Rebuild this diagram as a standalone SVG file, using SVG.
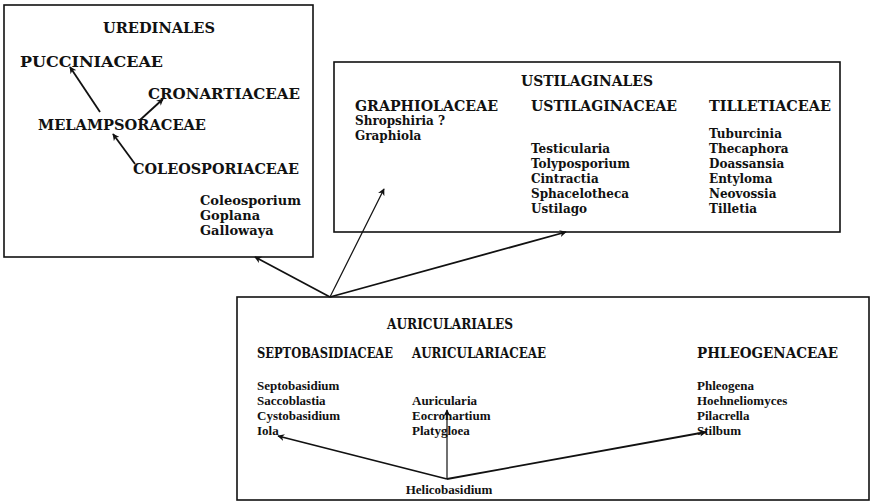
<svg xmlns="http://www.w3.org/2000/svg" width="874" height="503" viewBox="0 0 874 503">
<style>
.box{fill:none;stroke:#111;stroke-width:1.6}
.h{font-family:"DejaVu Serif","Liberation Serif",serif;font-weight:bold;font-size:14px;fill:#111}
.g{font-family:"DejaVu Serif","Liberation Serif",serif;font-weight:bold;font-size:12px;fill:#111}
.u{font-size:13px}
.s{font-family:"Liberation Serif","Times New Roman",serif;font-size:13px}
.c{text-anchor:middle}
.a{fill:none;stroke:#111;stroke-width:1.8;marker-end:url(#ah)}
.t{stroke-width:1.2}
</style>
<defs>
<marker id="ah" viewBox="0 0 10 10" refX="9" refY="5" markerWidth="7" markerHeight="7" markerUnits="userSpaceOnUse" orient="auto">
<path d="M0,0 L10,5 L0,10 L3,5 z" fill="#111"/>
</marker>
</defs>
<rect width="874" height="503" fill="#fff"/>
<g id="uredinales">
<rect class="box" x="4" y="5" width="309" height="252"/>
<text class="h c" x="159" y="33" textLength="112" lengthAdjust="spacingAndGlyphs">UREDINALES</text>
<text class="h" x="20" y="67" textLength="143" lengthAdjust="spacingAndGlyphs">PUCCINIACEAE</text>
<text class="h" x="148" y="99" textLength="152" lengthAdjust="spacingAndGlyphs">CRONARTIACEAE</text>
<text class="h" x="38" y="130" textLength="168" lengthAdjust="spacingAndGlyphs">MELAMPSORACEAE</text>
<text class="h" x="133" y="174" textLength="166" lengthAdjust="spacingAndGlyphs">COLEOSPORIACEAE</text>
<text class="g u" x="200" y="205">Coleosporium</text>
<text class="g u" x="200" y="220">Goplana</text>
<text class="g u" x="200" y="235">Gallowaya</text>
</g>
<g id="ustilaginales">
<rect class="box" x="334" y="62" width="506" height="170"/>
<text class="h c" x="587" y="86" textLength="132" lengthAdjust="spacingAndGlyphs">USTILAGINALES</text>
<text class="h" x="355" y="111" textLength="143" lengthAdjust="spacingAndGlyphs">GRAPHIOLACEAE</text>
<text class="g" x="355" y="125">Shropshiria ?</text>
<text class="g" x="355" y="140">Graphiola</text>
<text class="h" x="531" y="111" textLength="146" lengthAdjust="spacingAndGlyphs">USTILAGINACEAE</text>
<text class="g" x="531" y="153">Testicularia</text>
<text class="g" x="531" y="168">Tolyposporium</text>
<text class="g" x="531" y="183">Cintractia</text>
<text class="g" x="531" y="198">Sphacelotheca</text>
<text class="g" x="531" y="213">Ustilago</text>
<text class="h" x="709" y="111" textLength="122" lengthAdjust="spacingAndGlyphs">TILLETIACEAE</text>
<text class="g" x="709" y="138">Tuburcinia</text>
<text class="g" x="709" y="153">Thecaphora</text>
<text class="g" x="709" y="168">Doassansia</text>
<text class="g" x="709" y="183">Entyloma</text>
<text class="g" x="709" y="198">Neovossia</text>
<text class="g" x="709" y="213">Tilletia</text>
</g>
<g id="auriculariales">
<rect class="box" x="237" y="297" width="632" height="203"/>
<text class="h c" x="450" y="329" textLength="126" lengthAdjust="spacingAndGlyphs">AURICULARIALES</text>
<text class="h" x="257" y="358" textLength="136" lengthAdjust="spacingAndGlyphs">SEPTOBASIDIACEAE</text>
<text class="g s" x="257" y="390">Septobasidium</text>
<text class="g s" x="257" y="405">Saccoblastia</text>
<text class="g s" x="257" y="420">Cystobasidium</text>
<text class="g s" x="257" y="435">Iola</text>
<text class="h" x="412" y="358" textLength="134" lengthAdjust="spacingAndGlyphs">AURICULARIACEAE</text>
<text class="g s" x="412" y="405">Auricularia</text>
<text class="g s" x="412" y="420">Eocronartium</text>
<text class="g s" x="412" y="435">Platygloea</text>
<text class="h" x="697" y="358" textLength="141" lengthAdjust="spacingAndGlyphs">PHLEOGENACEAE</text>
<text class="g s" x="697" y="390">Phleogena</text>
<text class="g s" x="697" y="405">Hoehneliomyces</text>
<text class="g s" x="697" y="420">Pilacrella</text>
<text class="g s" x="697" y="435">Stilbum</text>
<text class="g s c" x="449" y="494">Helicobasidium</text>
</g>
<g id="connectors">
<line class="a" x1="100" y1="112" x2="70" y2="67"/>
<line class="a" x1="140" y1="120" x2="163" y2="99"/>
<line class="a" x1="135" y1="164" x2="113" y2="134"/>
<line class="a" x1="330" y1="297" x2="255" y2="257"/>
<line class="a t" x1="330" y1="297" x2="384" y2="189"/>
<line class="a" x1="330" y1="297" x2="566" y2="232"/>
<line class="a" x1="447" y1="479" x2="278" y2="436"/>
<line class="a t" x1="447" y1="479" x2="447" y2="410"/>
<line class="a" x1="447" y1="479" x2="706" y2="432"/>
</g>
</svg>
